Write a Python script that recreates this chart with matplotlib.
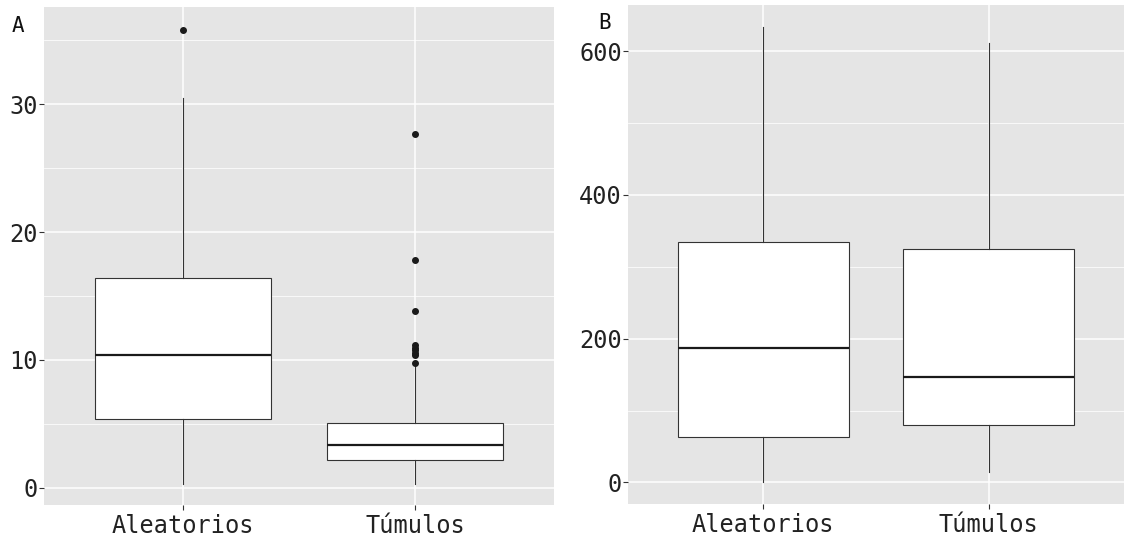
import matplotlib.pyplot as plt
from matplotlib.ticker import MultipleLocator
import numpy as np

plt.rcParams['font.family'] = ['DejaVu Sans Mono']

grupos = ["Aleatorios", "Túmulos"]

# panel A: box statistics per group (whisker low, Q1, median, Q3, whisker high)
a_stats = [[0.3, 5.4, 10.35, 16.4, 30.5],
           [0.3, 2.2, 3.35, 5.1, 9.6]]
a_outliers = [[35.8],
              [9.75, 10.35, 10.55, 10.75, 10.95, 11.15, 13.8, 17.8, 27.7]]

# panel B
b_stats = [[0, 63, 187, 335, 633],
           [14, 80, 146, 324, 611]]
b_outliers = [[], []]

bg = "#e5e5e5"
dark = "#333333"


def make_stats(stats, outliers):
    out = []
    for s, o in zip(stats, outliers):
        out.append(dict(whislo=s[0], q1=s[1], med=s[2], q3=s[3], whishi=s[4],
                        fliers=np.array(o)))
    return out


def panel(ax, stats, outliers, ylim, major, minor):
    ax.set_facecolor(bg)
    ax.bxp(make_stats(stats, outliers), positions=[1, 2], widths=0.76,
           showcaps=False, patch_artist=True,
           boxprops=dict(facecolor="white", edgecolor=dark, linewidth=0.8),
           medianprops=dict(color="#1a1a1a", linewidth=1.6),
           whiskerprops=dict(color=dark, linewidth=0.8),
           flierprops=dict(marker="o", markerfacecolor="#1a1a1a",
                           markeredgecolor="#1a1a1a", markersize=4),
           zorder=3)
    ax.set_xlim(0.4, 2.6)
    ax.set_ylim(*ylim)
    ax.set_xticks([1, 2])
    ax.set_xticklabels(grupos)
    ax.yaxis.set_major_locator(MultipleLocator(major))
    ax.yaxis.set_minor_locator(MultipleLocator(minor))
    ax.grid(which="major", color="white", linewidth=1.1, zorder=0)
    ax.grid(which="minor", axis="y", color="white", linewidth=0.55, zorder=0)
    ax.set_axisbelow(True)
    for sp in ax.spines.values():
        sp.set_visible(False)
    ax.tick_params(which="major", length=3.5, width=0.8, color=dark,
                   labelsize=17, labelcolor="#222222", pad=3)
    ax.tick_params(axis="y", pad=0.8)
    ax.tick_params(which="minor", length=0)


fig = plt.figure(figsize=(11.26, 5.38), dpi=100)
H = 538.0
W = 1126.0
ax1 = fig.add_axes([44 / W, (H - 505) / H, (554 - 44) / W, (505 - 7) / H])
ax2 = fig.add_axes([628 / W, (H - 504) / H, (1124 - 628) / W, (504 - 5) / H])

panel(ax1, a_stats, a_outliers, (-1.35, 37.6), 10, 5)
panel(ax2, b_stats, b_outliers, (-30, 664), 200, 100)

fig.text(12 / W, 1 - 32 / H, "A", fontsize=15, color="#111111", va="baseline")
fig.text(598 / W, 1 - 29 / H, "B", fontsize=15, color="#111111", va="baseline")

fig.savefig("out.png", dpi=100)
